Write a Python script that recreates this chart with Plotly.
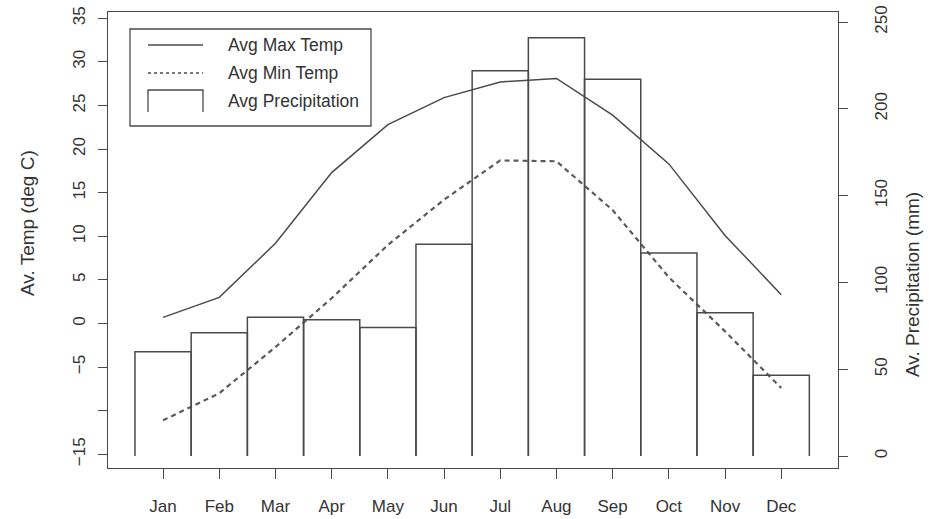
import plotly.graph_objects as go

# ---------------- data ----------------
months = ["Jan", "Feb", "Mar", "Apr", "May", "Jun", "Jul", "Aug", "Sep", "Oct", "Nov", "Dec"]
max_temp = [0.7, 3.0, 9.2, 17.3, 22.8, 25.9, 27.7, 28.1, 23.9, 18.3, 10.1, 3.3]
min_temp = [-11.1, -8.0, -2.7, 2.9, 9.0, 14.2, 18.7, 18.6, 13.0, 5.3, -0.9, -7.4]
precip = [60, 71, 80, 78.5, 74, 122, 222, 241, 217, 117, 82.5, 46.5]

temp_ticks = [-15, -10, -5, 0, 5, 10, 15, 20, 25, 30, 35]
temp_tick_labels = ["\u221215", "", "\u22125", "0", "5", "10", "15", "20", "25", "30", "35"]
precip_ticks = [0, 50, 100, 150, 200, 250]
precip_tick_labels = ["0", "50", "100", "150", "200", "250"]
legend_labels = ["Avg Max Temp", "Avg Min Temp", "Avg Precipitation"]
y_title_left = "Av. Temp (deg C)"
y_title_right = "Av. Precipitation (mm)"

# ---------------- layout geometry ----------------
W, H = 929, 519
L, R, T, B = 108, 91, 12, 51
PW, PH = W - L - R, H - T - B

def px(x):
    return (x - L) / PW

def py(y):
    return (H - B - y) / PH

INK = "#4a4a4a"
TXT = "#333333"
FONT = "Liberation Sans, Arial, Helvetica, sans-serif"

idx = list(range(1, len(months) + 1))

# open bar outlines (no bottom edge), built from the precipitation values
bx, by = [], []
for i, v in zip(idx, precip):
    bx += [i - 0.5, i - 0.5, i + 0.5, i + 0.5, None]
    by += [0, v, v, 0, None]

fig = go.Figure()
fig.add_trace(go.Scatter(x=bx, y=by, yaxis="y2", mode="lines",
                         line=dict(color=INK, width=1.5), showlegend=False,
                         name=legend_labels[2], connectgaps=False))
fig.add_trace(go.Scatter(x=idx, y=max_temp, mode="lines",
                         line=dict(color=INK, width=1.5), showlegend=False,
                         name=legend_labels[0]))
fig.add_trace(go.Scatter(x=idx, y=min_temp, mode="lines",
                         line=dict(color="#5a5a5a", width=2.2, dash="5px,4px"), showlegend=False,
                         name=legend_labels[1]))

axis_common = dict(showgrid=False, zeroline=False, showline=True, linecolor=INK,
                   linewidth=1.3, ticks="outside", tickcolor=INK, tickwidth=1.3,
                   automargin=False,
                   tickfont=dict(size=17, color=TXT, family=FONT))

fig.update_layout(
    width=W, height=H,
    margin=dict(l=L, r=R, t=T, b=B, pad=0, autoexpand=False),
    paper_bgcolor="white", plot_bgcolor="white",
    font=dict(family=FONT, color=TXT),
    showlegend=False,
    xaxis=dict(range=[0.02, 13.01], tickvals=idx, ticktext=months, ticklen=10,
               mirror=True, ticklabelstandoff=12, **axis_common),
    yaxis=dict(range=[-16.57, 35.72], tickvals=temp_ticks, ticktext=temp_tick_labels,
               ticklen=9, tickangle=-90, mirror=True, ticklabelstandoff=6, **axis_common),
    yaxis2=dict(range=[-6.9, 255.8], tickvals=precip_ticks, ticktext=precip_tick_labels,
                ticklen=9, tickangle=-90, overlaying="y", side="right",
                ticklabelstandoff=18, **axis_common),
)

annotations = [
    dict(text=y_title_left, x=px(27), y=py(223), textangle=-90),
    dict(text=y_title_right, x=px(913), y=py(285), textangle=-90),
]
for a in annotations:
    a.update(xref="paper", yref="paper", showarrow=False, xanchor="center",
             yanchor="middle", font=dict(size=19, color=TXT, family=FONT))

# legend drawn by hand (R-style)
shapes = [
    dict(type="rect", x0=px(130), x1=px(371), y0=py(29), y1=py(126),
         line=dict(color=INK, width=1.3), fillcolor="white", layer="above"),
    dict(type="line", x0=px(148), x1=px(203), y0=py(45), y1=py(45),
         line=dict(color=INK, width=1.5), layer="above"),
    dict(type="line", x0=px(148), x1=px(203), y0=py(73), y1=py(73),
         line=dict(color=INK, width=1.3, dash="3px,3px"), layer="above"),
    dict(type="path",
         path=f"M {px(148)},{py(112)} L {px(148)},{py(90)} L {px(203)},{py(90)} L {px(203)},{py(112)}",
         line=dict(color=INK, width=1.3), layer="above"),
]
for s in shapes:
    s.update(xref="paper", yref="paper")

for lab, yy in zip(legend_labels, [45, 73, 101]):
    annotations.append(dict(text=lab, x=px(226), y=py(yy), xref="paper", yref="paper",
                            showarrow=False, xanchor="left", yanchor="middle",
                            font=dict(size=17.5, color=TXT, family=FONT)))

fig.update_layout(shapes=shapes, annotations=annotations)

fig.write_html("out.html")
